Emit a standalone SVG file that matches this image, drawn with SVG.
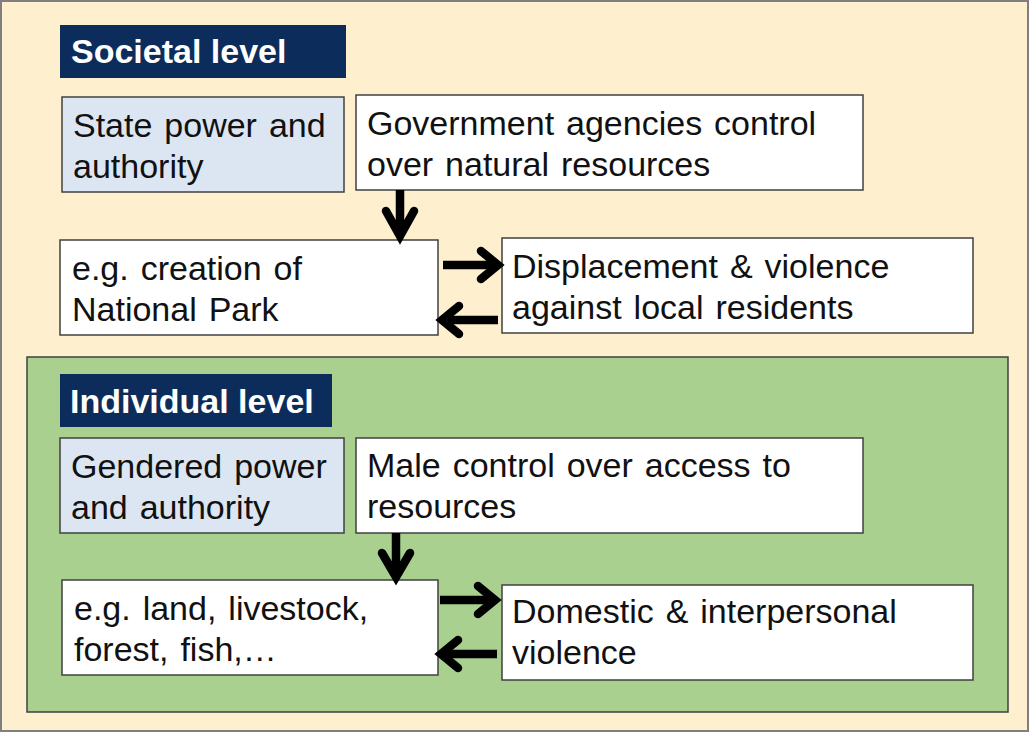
<svg xmlns="http://www.w3.org/2000/svg" width="1030" height="733" viewBox="0 0 1030 733">
  <style>
    .frame { fill: #FEF0CE; stroke: #7F7F7F; stroke-width: 2; }
    .panel { fill: #A9D08E; stroke: #404040; stroke-width: 1.5; }
    .hdr { fill: #0C2D5C; }
    .hdr-t { font-family: "Liberation Sans", Arial, sans-serif; font-weight: bold; font-size: 34px; fill: #FFFFFF; }
    .lbl { fill: #DCE6F2; stroke: #404040; stroke-width: 1.5; }
    .box { fill: #FFFFFF; stroke: #404040; stroke-width: 1.5; }
    .t { font-family: "Liberation Sans", Arial, sans-serif; font-size: 34px; fill: #111111; word-spacing: 2.5px; }
    .shaft { stroke: #000; stroke-width: 8.5; fill: none; }
    .head { stroke: #000; stroke-width: 8.5; fill: none; stroke-linecap: round; stroke-linejoin: miter; }
  </style>

  <!-- background frame -->
  <rect class="frame" x="1" y="1" width="1027" height="730"/>

  <!-- individual-level panel -->
  <rect class="panel" x="27" y="357" width="981" height="355"/>

  <g id="societal-header">
    <rect class="hdr" x="60" y="25" width="286" height="53"/>
    <text class="hdr-t" x="71" y="63">Societal level</text>
  </g>

  <g id="state-power">
    <rect class="lbl" x="62" y="97" width="282" height="95"/>
    <text class="t" x="73" y="137">State power and</text>
    <text class="t" x="73" y="178">authority</text>
  </g>

  <g id="government-control">
    <rect class="box" x="356" y="95" width="507" height="95"/>
    <text class="t" x="367" y="135">Government agencies control</text>
    <text class="t" x="367" y="176">over natural resources</text>
  </g>

  <g id="national-park">
    <rect class="box" x="60" y="240" width="378" height="95"/>
    <text class="t" x="72" y="280">e.g. creation of</text>
    <text class="t" x="72" y="321">National Park</text>
  </g>

  <g id="displacement">
    <rect class="box" x="502" y="238" width="471" height="95"/>
    <text class="t" x="512" y="278">Displacement &amp; violence</text>
    <text class="t" x="512" y="319">against local residents</text>
  </g>

  <g id="individual-header">
    <rect class="hdr" x="60" y="374" width="272" height="53"/>
    <text class="hdr-t" x="70" y="413">Individual level</text>
  </g>

  <g id="gendered-power">
    <rect class="lbl" x="60" y="438" width="284" height="95"/>
    <text class="t" x="71" y="478">Gendered power</text>
    <text class="t" x="71" y="519">and authority</text>
  </g>

  <g id="male-control">
    <rect class="box" x="356" y="438" width="507" height="95"/>
    <text class="t" x="367" y="477">Male control over access to</text>
    <text class="t" x="367" y="518">resources</text>
  </g>

  <g id="resources-examples">
    <rect class="box" x="62" y="580" width="376" height="95"/>
    <text class="t" x="74" y="620">e.g. land, livestock,</text>
    <text class="t" x="74" y="661">forest, fish,…</text>
  </g>

  <g id="domestic-violence">
    <rect class="box" x="502" y="585" width="471" height="95"/>
    <text class="t" x="512" y="623">Domestic &amp; interpersonal</text>
    <text class="t" x="512" y="664">violence</text>
  </g>

  <g id="connectors">
    <!-- societal: down -->
    <path class="shaft" d="M400 190 V234"/>
    <path class="head" d="M386 211 L400 236 L414 211"/>
    <!-- societal: right -->
    <path class="shaft" d="M443 265 H494"/>
    <path class="head" d="M481 251 L498 265 L481 279"/>
    <!-- societal: left -->
    <path class="shaft" d="M498 320 H446"/>
    <path class="head" d="M459 306 L442 320 L459 334"/>
    <!-- individual: down -->
    <path class="shaft" d="M396 533 V575"/>
    <path class="head" d="M382 553 L396 577 L410 553"/>
    <!-- individual: right -->
    <path class="shaft" d="M440 600 H491"/>
    <path class="head" d="M478 586 L495 600 L478 614"/>
    <!-- individual: left -->
    <path class="shaft" d="M497 654 H445"/>
    <path class="head" d="M458 640 L441 654 L458 668"/>
  </g>
</svg>
